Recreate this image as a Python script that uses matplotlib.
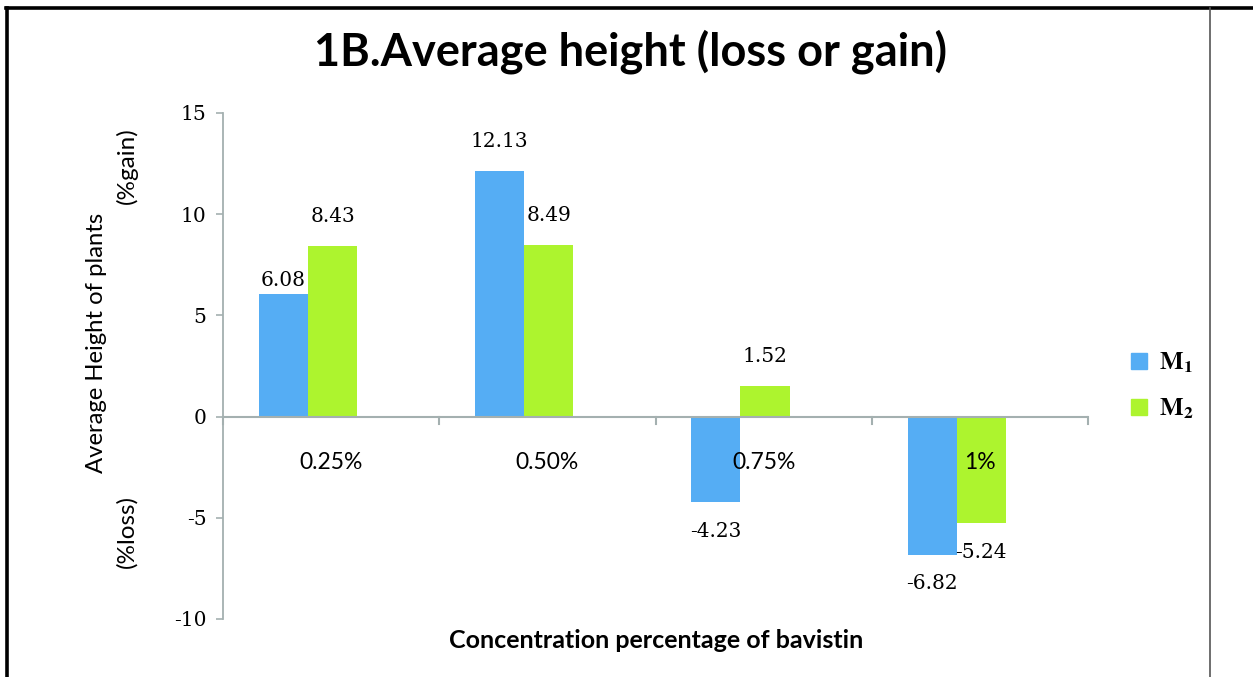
import matplotlib
matplotlib.use("Agg")
import matplotlib.pyplot as plt
from matplotlib.lines import Line2D
from matplotlib.patches import Patch
import numpy as np

# ---- data ----
categories = ["0.25%", "0.50%", "0.75%", "1%"]
m1_values = [6.08, 12.13, -4.23, -6.82]
m2_values = [8.43, 8.49, 1.52, -5.24]
series_names = [r"$\mathbf{M_1}$", r"$\mathbf{M_2}$"]
y_ticks = [-10, -5, 0, 5, 10, 15]

# ---- style ----
blue = "#55ADF4"
green = "#ADF42E"
axis_gray = "#A4B0B0"
bar_w = 0.227
cat_shift = 0.107        # category label/tick centre vs. bar-group centre
label_off = 1.45         # data label gap (data units)
# manual nudges (points) for individual data labels, as in the original
nudge = {(0, 0): (0, -12)}

plt.rcParams["mathtext.fontset"] = "stix"
fig = plt.figure(figsize=(12.53, 6.77), dpi=100)
W, H = 1253, 677
ax = fig.add_axes([223 / W, 1 - 619 / H, (1088 - 223) / W, (619 - 113) / H])

x = np.arange(len(categories))
b1 = ax.bar(x - bar_w / 2, m1_values, bar_w, color=blue, zorder=2)
b2 = ax.bar(x + bar_w / 2, m2_values, bar_w, color=green, zorder=2)

ax.set_xlim(-0.5 + cat_shift, len(categories) - 0.5 + cat_shift)
ax.set_ylim(-10, 15)
ax.set_yticks(y_ticks)
ax.set_yticklabels([str(t) for t in y_ticks], family="DejaVu Serif", fontsize=14.5)
ax.tick_params(axis="y", length=5, width=1.2, color=axis_gray, pad=7)
ax.set_xticks([])

for s in ["top", "right", "bottom"]:
    ax.spines[s].set_visible(False)
ax.spines["left"].set_color(axis_gray)
ax.spines["left"].set_linewidth(1.3)

# zero axis line with category boundary ticks
ax.axhline(0, color=axis_gray, lw=1.5, zorder=3)
for b in np.arange(len(categories) + 1) - 0.5 + cat_shift:
    ax.plot([b, b], [0, -0.35], color=axis_gray, lw=1.5, zorder=3, clip_on=False)

# category labels
for xi, c in zip(x, categories):
    ax.text(xi + cat_shift, -2.27, c, ha="center", va="center",
            family="Lato", fontsize=16.5, zorder=4)

# data labels
for si, (bars, vals) in enumerate([(b1, m1_values), (b2, m2_values)]):
    for ci, (rect, v) in enumerate(zip(bars, vals)):
        cx = rect.get_x() + rect.get_width() / 2
        cy = v + (label_off if v >= 0 else -label_off)
        dx, dy = nudge.get((si, ci), (0, 0))
        ax.annotate(f"{v:.2f}", (cx, cy), xytext=(dx, dy), textcoords="offset points",
                    ha="center", va="center", family="DejaVu Serif",
                    fontsize=14.5, zorder=5)

# title and axis labels
fig.text(630 / W, 1 - 52 / H, "1B.Average height (loss or gain)", ha="center",
         va="center", family="Lato", fontweight="bold", fontsize=32.5)
fig.text(656 / W, 1 - 640 / H, "Concentration percentage of bavistin", ha="center",
         va="center", family="Lato", fontweight="bold", fontsize=18)
fig.text(97 / W, 1 - 343 / H, "Average Height of plants", rotation=90, ha="center",
         va="center", family="Lato", fontsize=17.2)
fig.text(127 / W, 1 - 166 / H, "(%gain)", rotation=90, ha="center",
         va="center", family="Lato", fontsize=17.5)
fig.text(127 / W, 1 - 531 / H, "(%loss)", rotation=90, ha="center",
         va="center", family="Lato", fontsize=17.5)

# legend
handles = [Patch(color=blue), Patch(color=green)]
leg = fig.legend(handles, series_names, loc="center left",
                 bbox_to_anchor=(1131 / W, 1 - 386 / H), frameon=False,
                 borderpad=0, borderaxespad=0,
                 prop={"size": 18, "weight": "bold"}, handlelength=0.62,
                 handleheight=0.62, labelspacing=0.85, handletextpad=0.5)

# frame lines
fig.add_artist(Line2D([7 / W, 7 / W], [0, 1 - 8 / H], color="black", lw=2.6))
fig.add_artist(Line2D([6 / W, 1], [1 - 8 / H, 1 - 8 / H], color="black", lw=2.6))
fig.add_artist(Line2D([1210 / W, 1210 / W], [0, 1 - 8 / H], color="#555555", lw=1.2))

fig.savefig("out.png", dpi=100, facecolor="white")
